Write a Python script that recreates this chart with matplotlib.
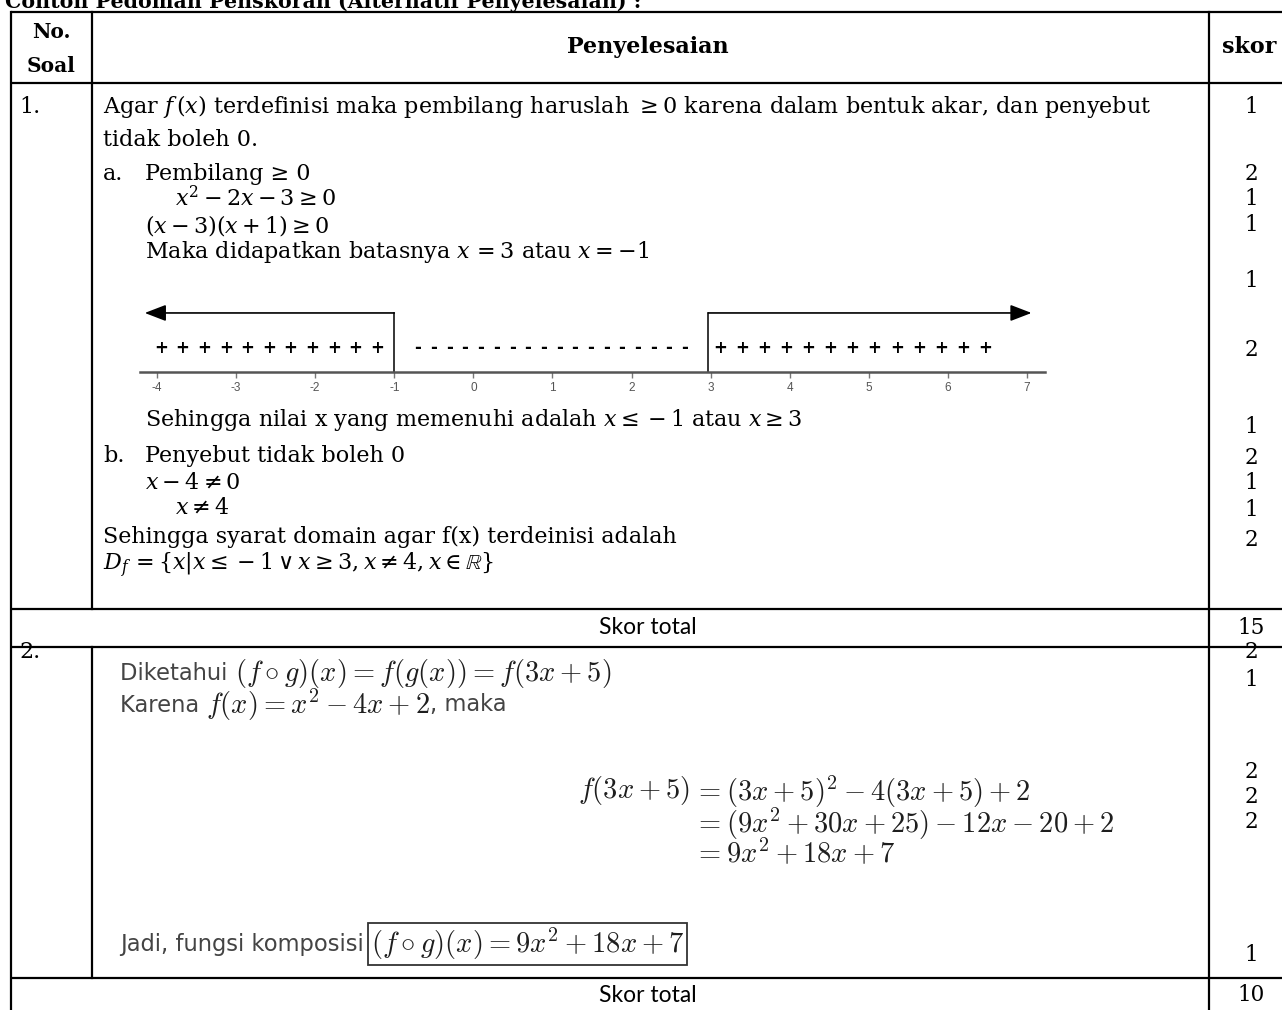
import matplotlib
matplotlib.use("Agg")
import matplotlib.pyplot as plt
import numpy as np

plt.rcParams['axes.unicode_minus'] = False

# ---------------- data ----------------
title = "Contoh Pedoman Penskoran (Alternatif Penyelesaian) :"
header_no = ["No.", "Soal"]
header_main = "Penyelesaian"
header_skor = "skor"
soal_no = ["1.", "2."]
skor_soal1 = [1, 2, 1, 1, 1, 2, 1, 2, 1, 1, 2]
skor_soal2 = [2, 1, 2, 2, 2, 1]
total_label = "Skor total"
totals = [15, 10]
numline_ticks = [-4, -3, -2, -1, 0, 1, 2, 3, 4, 5, 6, 7]
batas = [-1, 3]
tanda = ["+", "-", "+"]
jumlah_tanda = [11, 18, 13]

soal1_lines = [
    (103, r"Agar $f\,(x)$ terdefinisi maka pembilang haruslah $\geq 0$ karena dalam bentuk akar, dan penyebut"),
    (103, "tidak boleh 0."),
    (103, "a."), (145, "Pembilang ≥ 0"),
    (175, r"$x^2 - 2x - 3 \geq 0$"),
    (145, r"$(x - 3)(x + 1) \geq 0$"),
    (145, r"Maka didapatkan batasnya $x\,=3$ atau $x=-1$"),
    (145, r"Sehingga nilai x yang memenuhi adalah $x \leq -1$ atau $x \geq 3$"),
    (103, "b."), (145, "Penyebut tidak boleh 0"),
    (145, r"$x - 4 \neq 0$"),
    (175, r"$x \neq 4$"),
    (103, "Sehingga syarat domain agar f(x) terdeinisi adalah"),
    (103, r"$D_f\, = \{x|x \leq -1 \vee x \geq 3, x \neq 4, x \in \mathbb{R}\}$"),
]
soal1_y = [107, 140, 174, 174, 199, 226, 252, 420, 456, 456, 483, 508, 537, 565]
skor1_y = [107, 174, 199, 225, 281, 350, 427, 458, 483, 510, 540]
skor2_y = [652, 680, 772, 797, 822, 955]

diketahui_txt = "Diketahui "
diketahui_math = r"$(f\circ g)(x) = f(g(x)) = f(3x+5)$"
karena_parts = ["Karena ", r"$f(x) = x^2 - 4x + 2$", ", maka"]
eq_lhs = r"$f(3x+5)$"
eq_rhs = [r"$= (3x+5)^2 - 4(3x+5) + 2$",
          r"$= (9x^2 + 30x + 25) - 12x - 20 + 2$",
          r"$= 9x^2 + 18x + 7$"]
jadi_txt = "Jadi, fungsi komposisi "
jadi_math = r"$(f\circ g)(x) = 9x^2 + 18x + 7$"

# ---------------- figure ----------------
W, H = 1282, 1010
fig = plt.figure(figsize=(W / 100, H / 100), dpi=100)
fig.patch.set_facecolor("white")
ax = fig.add_axes([0, 0, 1, 1])
ax.set_xlim(0, W)
ax.set_ylim(H, 0)
ax.axis("off")

SERIF = "DejaVu Serif"
BODY = 16
LW = 1.6

# title (cut at top, as in the reference)
ax.text(5, 8, title, ha="left", va="baseline", fontsize=14.8, fontweight="bold", family=SERIF)

# table grid
xl, xc1, xc2, xr = 11, 92, 1209, 1282
for y in [12, 83, 609, 647, 978]:
    ax.plot([xl, xr], [y, y], color="black", lw=LW, solid_capstyle="butt")
ax.plot([xl, xl], [12, H], color="black", lw=LW)
ax.plot([xc2, xc2], [12, H], color="black", lw=LW)
ax.plot([xc1, xc1], [12, 609], color="black", lw=LW)
ax.plot([xc1, xc1], [647, 978], color="black", lw=LW)

# headers
ax.text(51, 32, header_no[0], ha="center", va="center", fontsize=14.5, fontweight="bold", family=SERIF)
ax.text(51, 66, header_no[1], ha="center", va="center", fontsize=14.5, fontweight="bold", family=SERIF)
ax.text(648, 47, header_main, ha="center", va="center", fontsize=16, fontweight="bold", family=SERIF)
ax.text(1249, 47, header_skor, ha="center", va="center", fontsize=16, fontweight="bold", family=SERIF)

# question numbers
ax.text(19, 107, soal_no[0], ha="left", va="center", fontsize=BODY, family=SERIF)
ax.text(19, 652, soal_no[1], ha="left", va="center", fontsize=BODY, family=SERIF)

# soal 1 text
for (x, s), y in zip(soal1_lines, soal1_y):
    ax.text(x, y, s, ha="left", va="center", fontsize=BODY, family=SERIF,
            math_fontfamily="dejavuserif")

# scores
SK = 15.5
for v, y in zip(skor_soal1, skor1_y):
    ax.text(1251, y, str(v), ha="center", va="center", fontsize=SK, family=SERIF)
for v, y in zip(skor_soal2, skor2_y):
    ax.text(1251, y, str(v), ha="center", va="center", fontsize=SK, family=SERIF)
for t, y in zip(totals, [628, 995]):
    ax.text(1251, y, str(t), ha="center", va="center", fontsize=SK, family=SERIF)
    ax.text(648, y, total_label, ha="center", va="center", fontsize=16.5, family="Lato")

# number line
x0px, x1px, ytop, ybot = 140, 1045, 300, 372
nax = fig.add_axes([x0px / W, 1 - ybot / H, (x1px - x0px) / W, (ybot - ytop) / H])
pxu = (1027 - 157) / (numline_ticks[-1] - numline_ticks[0])
lo = numline_ticks[0] - (157 - x0px) / pxu
hi = numline_ticks[-1] + (x1px - 1027) / pxu
nax.set_xlim(lo, hi)
nax.set_ylim(0, 1)
nax.patch.set_alpha(0)
for s in ["top", "left", "right"]:
    nax.spines[s].set_visible(False)
nax.spines["bottom"].set_color("#555555")
nax.spines["bottom"].set_linewidth(1.8)
nax.set_yticks([])
nax.set_xticks(numline_ticks)
nax.set_xticklabels([str(t) for t in numline_ticks])
nax.tick_params(axis="x", direction="out", length=4, width=1, colors="#777777",
                labelsize=8.5, pad=3, labelcolor="#555555")
for lab in nax.get_xticklabels():
    lab.set_family("Liberation Sans")

yarr = 0.82
arrow_kw = dict(arrowstyle="-|>,head_length=0.65,head_width=0.25", color="black",
                lw=1.2, mutation_scale=20, shrinkA=0, shrinkB=0)
nax.plot([batas[0], batas[0]], [0, yarr], color="black", lw=1.1)
nax.annotate("", xy=(lo + 0.06, yarr), xytext=(batas[0], yarr), arrowprops=arrow_kw)
nax.plot([batas[1] - 0.03, batas[1] - 0.03], [0, yarr], color="black", lw=1.1)
nax.annotate("", xy=(hi - 0.17, yarr), xytext=(batas[1] - 0.03, yarr), arrowprops=arrow_kw)

ysign = 0.33
ranges = [(numline_ticks[0] + 0.05, batas[0] - 0.22),
          (batas[0] + 0.3, batas[1] - 0.33),
          (batas[1] + 0.12, 6.47)]
for sym, n, (a, b) in zip(tanda, jumlah_tanda, ranges):
    for xx in np.linspace(a, b, n):
        nax.text(xx, ysign, sym, ha="center", va="center", fontsize=12,
                 family="DejaVu Sans", fontweight="bold", color="black")

# soal 2
SANS2 = "DejaVu Sans"
GRAY = "#444444"
MC = "#1e1e1e"
S2 = 16.3
M2 = 20.5
t1 = ax.text(120, 673, diketahui_txt, ha="left", va="center", fontsize=S2, family=SANS2, color=GRAY)
ax.annotate(diketahui_math, xy=(1, 0.5), xycoords=t1, ha="left", va="center",
            fontsize=M2, math_fontfamily="cm", color=MC)
k1 = ax.text(120, 705, karena_parts[0], ha="left", va="center", fontsize=S2, family=SANS2, color=GRAY)
k2 = ax.annotate(karena_parts[1], xy=(1, 0.5), xycoords=k1, ha="left", va="center",
                 fontsize=M2, math_fontfamily="cm", color=MC)
ax.annotate(karena_parts[2], xy=(1, 0.5), xycoords=k2, ha="left", va="center",
            fontsize=S2, family=SANS2, color=GRAY)

# aligned equation block: one multi-line text for the right-hand sides
ax.text(690, 798, eq_lhs, ha="right", va="baseline", fontsize=M2, math_fontfamily="cm", color=MC)
ax.text(694, 774, "\n".join(eq_rhs), ha="left", va="top", fontsize=M2,
        math_fontfamily="cm", color=MC, linespacing=0.86, multialignment="left")

j1 = ax.text(120, 944, jadi_txt, ha="left", va="center", fontsize=S2, family=SANS2, color=GRAY)
ax.annotate(jadi_math, xy=(1, 0.5), xycoords=j1, ha="left", va="center",
            fontsize=M2, math_fontfamily="cm", color=MC,
            bbox=dict(boxstyle="square,pad=0.1", fc="none", ec="#333333", lw=1.3))

fig.savefig("out.png", dpi=100, facecolor="white")
